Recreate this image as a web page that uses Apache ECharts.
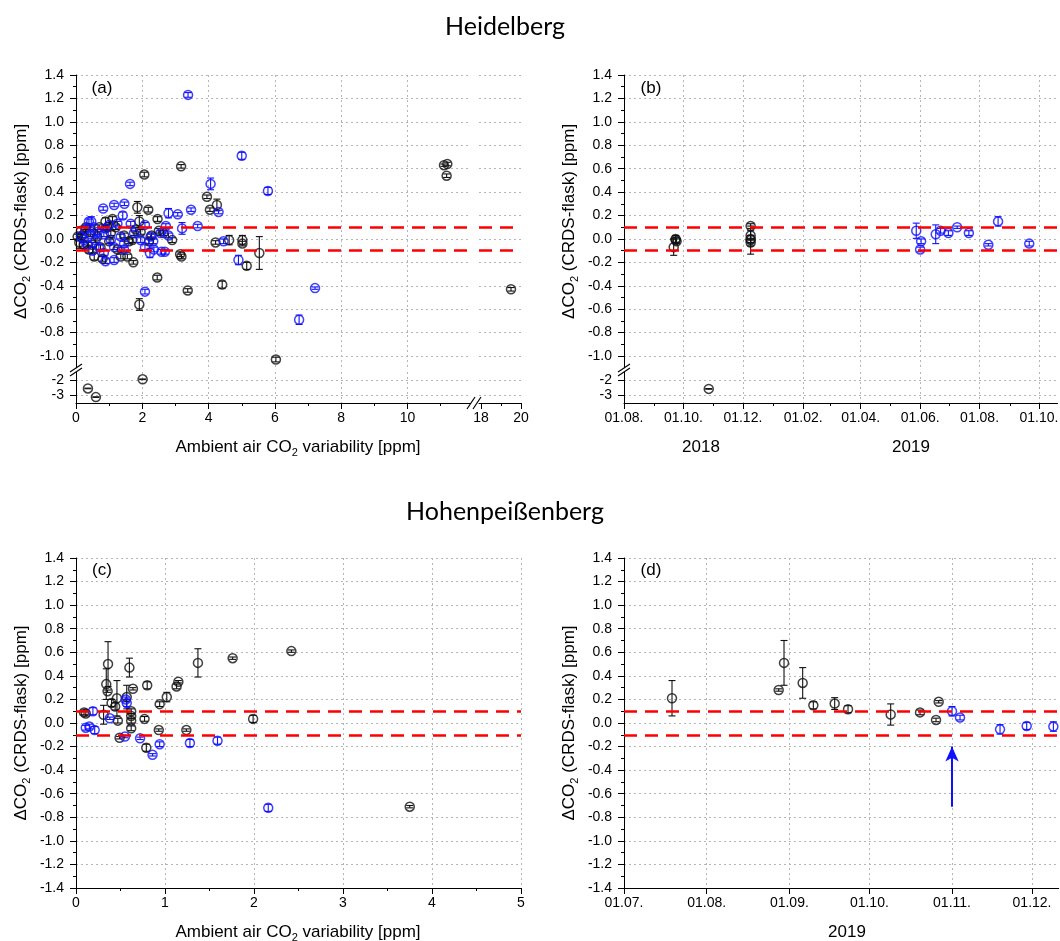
<!DOCTYPE html>
<html>
<head>
<meta charset="utf-8">
<title>CO2 CRDS-flask comparison</title>
<script src="https://cdn.jsdelivr.net/npm/echarts@6/dist/echarts.min.js"></script>
<style>
html, body { margin: 0; padding: 0; background: #fff; }
#chart { width: 1060px; height: 941px; }
</style>
</head>
<body>
<div id="chart"></div>
<script>
var FONT = '"Liberation Sans", Arial, sans-serif';
var BLACK = '#111111';
var BLUE = '#1010ff';

// Heidelberg, vs ambient variability: [variability ppm, dCO2 ppm, error]
var hdVarBlack = [
  [2.06, 0.55, 0.02], [3.17, 0.62, 0.015], [11.1, 0.63, 0.01], [11.2, 0.64, 0.015], [11.18, 0.54, 0.015],
  [3.95, 0.36, 0.015], [4.04, 0.25, 0.015], [4.25, 0.29, 0.05], [2.18, 0.25, 0.02], [1.85, 0.27, 0.05],
  [1.91, 0.15, 0.05], [2.46, 0.17, 0.02], [4.21, -0.03, 0.015], [4.62, -0.01, 0.04], [5.02, -0.01, 0.04],
  [5.02, -0.04, 0.02], [5.53, -0.12, 0.14], [5.15, -0.23, 0.03], [3.14, -0.13, 0.02], [3.18, -0.15, 0.02],
  [1.73, -0.2, 0.015], [6.03, -1.03, 0.02], [4.41, -0.39, 0.03], [2.45, -0.33, 0.02], [3.37, -0.44, 0.015],
  [1.91, -0.56, 0.05], [2.01, -1.97, 0.02], [0.36, -2.56, 0.02], [0.6, -3.12, 0.02], [19.5, -0.43, 0.015],
  [0.05, 0.02, 0.02], [0.1, -0.03, 0.05], [0.15, 0.07, 0.03], [0.19, 0.03, 0.02], [0.24, -0.05, 0.03],
  [0.3, 0.1, 0.02], [0.39, -0.09, 0.03], [0.45, 0.06, 0.02], [0.49, -0.05, 0.02], [0.55, -0.15, 0.03],
  [0.64, 0.02, 0.02], [0.7, 0.1, 0.02], [0.74, -0.07, 0.02], [0.8, -0.17, 0.02], [0.89, 0.15, 0.03],
  [0.95, 0.1, 0.02], [1.0, -0.02, 0.02], [1.05, 0.05, 0.02], [1.1, 0.17, 0.02], [1.2, 0.1, 0.02],
  [1.25, -0.09, 0.02], [1.35, -0.15, 0.02], [1.45, 0.03, 0.02], [1.55, -0.15, 0.02], [1.6, -0.02, 0.02],
  [1.7, -0.01, 0.02], [1.8, 0.08, 0.02], [1.95, 0.06, 0.02], [2.2, -0.02, 0.02], [2.28, 0.03, 0.02],
  [2.64, 0.05, 0.02], [2.5, 0.07, 0.02], [2.9, -0.01, 0.02]
];
var hdVarBlue = [
  [3.38, 1.23, 0.02], [5.0, 0.71, 0.03], [5.79, 0.41, 0.03], [1.63, 0.47, 0.015], [4.06, 0.47, 0.05],
  [4.3, 0.23, 0.015], [3.47, 0.25, 0.015], [3.07, 0.21, 0.015], [2.79, 0.22, 0.04], [3.67, 0.11, 0.015],
  [3.2, 0.09, 0.05], [2.71, 0.11, 0.02], [1.46, 0.3, 0.015], [1.15, 0.29, 0.015], [0.82, 0.26, 0.015],
  [1.41, 0.2, 0.03], [0.46, 0.15, 0.04], [4.45, -0.02, 0.02], [4.9, -0.18, 0.04], [6.73, -0.69, 0.04],
  [7.21, -0.42, 0.01], [2.08, -0.45, 0.02], [2.08, 0.12, 0.02], [2.33, -0.02, 0.02], [2.08, -0.07, 0.02],
  [2.23, -0.12, 0.04], [2.58, -0.11, 0.02], [2.68, -0.11, 0.02], [2.79, 0.03, 0.02],
  [0.39, 0.15, 0.02], [0.54, 0.1, 0.02], [0.29, 0.08, 0.03], [0.44, 0.04, 0.02], [0.24, -0.01, 0.02],
  [0.59, -0.01, 0.02], [0.34, -0.05, 0.02], [0.69, -0.07, 0.02], [0.84, 0.04, 0.02], [0.89, 0.09, 0.02],
  [1.0, 0.12, 0.02], [1.05, -0.01, 0.02], [1.15, -0.07, 0.02], [1.25, 0.13, 0.02], [1.35, 0.02, 0.02],
  [1.45, -0.04, 0.02], [0.84, -0.12, 0.02], [0.89, -0.19, 0.02], [1.15, -0.18, 0.02], [1.45, -0.09, 0.02],
  [1.95, -0.01, 0.02], [2.25, 0.02, 0.02], [2.55, 0.05, 0.02], [2.35, -0.09, 0.02], [0.15, 0.02, 0.03],
  [0.5, -0.1, 0.03], [0.65, 0.06, 0.02], [1.65, 0.13, 0.02], [1.75, 0.05, 0.02]
];

// Heidelberg, time series: [date, dCO2 ppm, error]
var hdTimeBlack = [
  ['2018-09-21', -0.07, 0.07], ['2018-09-23', 0.0, 0.03], ['2018-09-23', -0.01, 0.02], ['2018-09-24', -0.02, 0.02],
  ['2018-10-27', -2.59, 0.02],
  ['2018-12-09', 0.11, 0.02], ['2018-12-09', 0.03, 0.04], ['2018-12-09', 0.0, 0.03],
  ['2018-12-09', -0.01, 0.12], ['2018-12-09', -0.03, 0.03]
];
var hdTimeBlue = [
  ['2019-05-28', 0.07, 0.065], ['2019-06-02', -0.02, 0.02], ['2019-06-01', -0.09, 0.02], ['2019-06-17', 0.04, 0.08],
  ['2019-06-22', 0.07, 0.02], ['2019-06-30', 0.05, 0.02], ['2019-07-09', 0.1, 0.01], ['2019-07-21', 0.05, 0.02],
  ['2019-08-10', -0.05, 0.01], ['2019-08-20', 0.15, 0.04], ['2019-09-21', -0.04, 0.02]
];

// Hohenpeissenberg, vs ambient variability
var hpVarBlack = [
  [0.36, 0.5, 0.19], [0.34, 0.33, 0.13], [0.355, 0.27, 0.01], [0.6, 0.47, 0.08], [0.64, 0.29, 0.01],
  [0.8, 0.32, 0.03], [0.46, 0.21, 0.15], [0.4, 0.17, 0.03], [0.44, 0.14, 0.03], [0.57, 0.22, 0.1],
  [0.47, 0.02, 0.02], [0.31, 0.07, 0.08], [0.11, 0.08, 0.02], [0.09, 0.09, 0.02], [0.62, 0.1, 0.02],
  [0.62, 0.06, 0.02], [0.62, 0.02, 0.02], [0.62, -0.045, 0.02], [0.77, 0.035, 0.02], [0.49, -0.125, 0.01],
  [0.79, -0.21, 0.03], [0.93, -0.06, 0.01], [0.94, 0.16, 0.02], [1.02, 0.22, 0.04], [1.13, 0.31, 0.02],
  [1.15, 0.35, 0.01], [1.24, -0.06, 0.01], [1.37, 0.51, 0.12], [1.76, 0.55, 0.01], [1.99, 0.035, 0.03],
  [2.42, 0.61, 0.01], [3.75, -0.71, 0.01]
];
var hpVarBlue = [
  [0.57, 0.17, 0.03], [0.56, 0.2, 0.02], [0.19, 0.1, 0.03], [0.38, 0.04, 0.01], [0.11, -0.04, 0.02],
  [0.15, -0.03, 0.02], [0.21, -0.06, 0.03], [0.55, -0.115, 0.01], [0.72, -0.13, 0.01], [0.86, -0.27, 0.01],
  [0.94, -0.18, 0.02], [1.28, -0.17, 0.03], [1.59, -0.15, 0.03], [2.16, -0.72, 0.03]
];

// Hohenpeissenberg, time series
var hpTimeBlack = [
  ['2019-07-19', 0.21, 0.15], ['2019-08-28', 0.28, 0.01], ['2019-08-30', 0.51, 0.19], ['2019-09-06', 0.34, 0.13],
  ['2019-09-10', 0.15, 0.03], ['2019-09-18', 0.165, 0.05], ['2019-09-23', 0.117, 0.03], ['2019-10-09', 0.072, 0.09],
  ['2019-10-20', 0.09, 0.02], ['2019-10-26', 0.026, 0.015], ['2019-10-27', 0.18, 0.01]
];
var hpTimeBlue = [
  ['2019-11-01', 0.1, 0.04], ['2019-11-04', 0.046, 0.02], ['2019-11-19', -0.054, 0.04],
  ['2019-11-29', -0.025, 0.03], ['2019-12-09', -0.03, 0.04]
];
var arrowDate = '2019-11-01', arrowFrom = -0.71, arrowTo = -0.2;

// ticks
var yMajor = [-1.0, -0.8, -0.6, -0.4, -0.2, 0, 0.2, 0.4, 0.6, 0.8, 1.0, 1.2, 1.4];
var yMinor = [-0.9, -0.7, -0.5, -0.3, -0.1, 0.1, 0.3, 0.5, 0.7, 0.9, 1.1, 1.3];
var yBreak = [-3, -2];
var xVarTicks = [0, 2, 4, 6, 8, 10], xVarMinor = [1, 3, 5, 7, 9, 11];
var xFarTicks = [18, 20], xFarMinor = [19];
var hdDateTicks = ['2018-08-01', '2018-10-01', '2018-12-01', '2019-02-01', '2019-04-01', '2019-06-01', '2019-08-01', '2019-10-01'];
var hdDateMinor = ['2018-09-01', '2018-11-01', '2019-01-01', '2019-03-01', '2019-05-01', '2019-07-01', '2019-09-01'];
var hpDateTicks = ['2019-07-01', '2019-08-01', '2019-09-01', '2019-10-01', '2019-11-01', '2019-12-01'];

function day(s) {
  var p = s.split('-').map(Number);
  return new Date(p[0], p[1] - 1, p[2]).getTime();
}
function toTime(arr) { return arr.map(function (p) { return [day(p[0]), p[1], p[2]]; }); }
function pick(d, x0, x1, y0, y1) {
  return d.filter(function (p) { return p[0] >= x0 && p[0] <= x1 && p[1] >= y0 && p[1] <= y1; });
}
function pad(n) { return (n < 10 ? '0' : '') + n; }
function fmtDate(v) { var d = new Date(v); return pad(d.getDate()) + '.' + pad(d.getMonth() + 1) + '.'; }
function fmt1(v) { return (+v).toFixed(1); }
function fmt0(v) { return String(Math.round(v)); }

var axLine = { show: true, onZero: false, lineStyle: { color: '#000', width: 1 } };
var grid_split = { show: true, lineStyle: { color: '#b5b5b5', type: [2, 3], width: 1 } };
function major(vals) { return { show: true, length: 6, customValues: vals, lineStyle: { color: '#000' } }; }
function minor(vals) { return { show: true, length: 3, customValues: vals, lineStyle: { color: '#000' } }; }
function labs(vals, f, margin) {
  return { show: true, customValues: vals, formatter: f, color: '#000', fontFamily: FONT, fontSize: 14, margin: margin };
}
function axis(gi, pos, extra) {
  return Object.assign({
    gridIndex: gi, position: pos, axisLine: { show: false, onZero: false }, axisTick: { show: false },
    axisLabel: { show: false }, splitLine: { show: false }
  }, extra);
}
var yName = '{n|\u0394CO}{s|2}{n| (CRDS-flask) [ppm]}';
var yNameStyle = {
  color: '#000', fontFamily: FONT, fontSize: 17,
  rich: {
    n: { fontFamily: FONT, fontSize: 17, color: '#000', lineHeight: 22 },
    s: { fontFamily: FONT, fontSize: 11, color: '#000', lineHeight: 11, verticalAlign: 'bottom' }
  }
};

function errBar(params, api) {
  var x = api.value(0), y = api.value(1), e = api.value(2);
  var a = api.coord([x, y + e]), b = api.coord([x, y - e]);
  var w = 3.5;
  var st = { stroke: api.visual('color'), lineWidth: 1.1 };
  return {
    type: 'group', children: [
      { type: 'line', shape: { x1: a[0], y1: a[1], x2: b[0], y2: b[1] }, style: st },
      { type: 'line', shape: { x1: a[0] - w, y1: a[1], x2: a[0] + w, y2: a[1] }, style: st },
      { type: 'line', shape: { x1: b[0] - w, y1: b[1], x2: b[0] + w, y2: b[1] }, style: st }
    ]
  };
}
var limitMark = {
  symbol: 'none', silent: true, label: { show: false },
  lineStyle: { color: '#ff0000', type: [13, 8], width: 2.6 },
  data: [{ yAxis: 0.1 }, { yAxis: -0.1 }]
};
function points(data, color, xi, yi, mark) {
  var sc = {
    type: 'scatter', xAxisIndex: xi, yAxisIndex: yi, data: data, symbol: 'circle', symbolSize: 9,
    itemStyle: { color: 'rgba(0,0,0,0)', borderColor: color, borderWidth: 1.5 },
    emphasis: { disabled: true }, silent: true, z: 4
  };
  if (mark) sc.markLine = mark;
  return [
    { type: 'custom', xAxisIndex: xi, yAxisIndex: yi, data: data, renderItem: errBar, itemStyle: { color: color }, silent: true, z: 3 },
    sc
  ];
}

var hdTB = toTime(hdTimeBlack), hdTU = toTime(hdTimeBlue);
var hpTB = toTime(hpTimeBlack), hpTU = toTime(hpTimeBlue);
var hdMin = day('2018-08-01'), hdMax = day('2019-10-20');
var hpMin = day('2019-07-01'), hpMax = day('2019-12-11');

var series = [].concat(
  points(pick(hdVarBlack, 0, 11.9, -1.1, 1.4), BLACK, 0, 0, limitMark),
  points(pick(hdVarBlue, 0, 11.9, -1.1, 1.4), BLUE, 0, 0),
  points(pick(hdVarBlack, 0, 11.9, -3.5, -1.5), BLACK, 1, 1),
  points(pick(hdVarBlack, 17.9, 20, -1.1, 1.4), BLACK, 2, 2, limitMark),
  points(pick(hdTB, hdMin, hdMax, -1.1, 1.4), BLACK, 4, 4, limitMark),
  points(pick(hdTU, hdMin, hdMax, -1.1, 1.4), BLUE, 4, 4),
  points(pick(hdTB, hdMin, hdMax, -3.5, -1.5), BLACK, 5, 5),
  points(hpVarBlack, BLACK, 6, 6, limitMark),
  points(hpVarBlue, BLUE, 6, 6),
  points(hpTB, BLACK, 7, 7, limitMark),
  points(hpTU, BLUE, 7, 7, {
    symbol: ['none', 'arrow'], symbolSize: [10, 15], silent: true, label: { show: false },
    lineStyle: { color: BLUE, type: 'solid', width: 2 },
    data: [[{ coord: [day(arrowDate), arrowFrom] }, { coord: [day(arrowDate), arrowTo] }]]
  })
);

var txt = function (x, y, text, size, extra) {
  return {
    type: 'text', x: x, y: y, silent: true,
    style: Object.assign({ text: text, fill: '#000', font: size + 'px ' + FONT, align: 'center', verticalAlign: 'middle' }, extra || {})
  };
};
var brk = function (x1, y1, x2, y2) {
  return { type: 'line', silent: true, shape: { x1: x1, y1: y1, x2: x2, y2: y2 }, style: { stroke: '#000', lineWidth: 1.2 } };
};
var xTitleRich = {
  text: '{n|Ambient air CO}{s|2}{n| variability [ppm]}',
  rich: {
    n: { fontFamily: FONT, fontSize: 17, fill: '#000', lineHeight: 22 },
    s: { fontFamily: FONT, fontSize: 11, fill: '#000', lineHeight: 11, verticalAlign: 'bottom' }
  }
};

var option = {
  backgroundColor: '#fff',
  animation: false,
  grid: [
    { left: 76, top: 75, width: 394.5, height: 292.75, outerBoundsMode: 'none' },
    { left: 76, top: 372, width: 394.5, height: 31, outerBoundsMode: 'none' },
    { left: 479, top: 75, width: 42, height: 292.75, outerBoundsMode: 'none' },
    { left: 479, top: 372, width: 42, height: 31, outerBoundsMode: 'none' },
    { left: 624, top: 75, width: 433.5, height: 292.75, outerBoundsMode: 'none' },
    { left: 624, top: 372, width: 433.5, height: 31, outerBoundsMode: 'none' },
    { left: 76, top: 558, width: 445, height: 330, outerBoundsMode: 'none' },
    { left: 624, top: 558, width: 434.7, height: 330, outerBoundsMode: 'none' }
  ],
  xAxis: [
    axis(0, 'bottom', { type: 'value', min: 0, max: 11.9, axisTick: { show: false, customValues: xVarTicks }, splitLine: grid_split }),
    axis(1, 'bottom', { type: 'value', min: 0, max: 11.9, axisLine: axLine, axisTick: major(xVarTicks), axisLabel: labs(xVarTicks, fmt0, 8), splitLine: grid_split }),
    axis(2, 'bottom', { type: 'value', min: 17.9, max: 20 }),
    axis(3, 'bottom', { type: 'value', min: 17.9, max: 20, axisLine: axLine, axisTick: major(xFarTicks), axisLabel: labs(xFarTicks, fmt0, 8) }),
    axis(4, 'bottom', { type: 'value', min: hdMin, max: hdMax, axisTick: { show: false, customValues: hdDateTicks.map(day) }, splitLine: grid_split }),
    axis(5, 'bottom', { type: 'value', min: hdMin, max: hdMax, axisLine: axLine, axisTick: major(hdDateTicks.map(day)), axisLabel: labs(hdDateTicks.map(day), fmtDate, 8), splitLine: grid_split }),
    axis(6, 'bottom', {
      type: 'value', min: 0, max: 5, interval: 1, axisLine: axLine,
      axisTick: { show: true, length: 6, lineStyle: { color: '#000' } },
      minorTick: { show: true, splitNumber: 2, length: 3, lineStyle: { color: '#000' } },
      axisLabel: { show: true, formatter: fmt0, color: '#000', fontFamily: FONT, fontSize: 14, margin: 8 },
      splitLine: grid_split
    }),
    axis(7, 'bottom', { type: 'value', min: hpMin, max: hpMax, axisLine: axLine, axisTick: major(hpDateTicks.map(day)), axisLabel: labs(hpDateTicks.map(day), fmtDate, 8), splitLine: grid_split }),
    axis(1, 'bottom', { type: 'value', min: 0, max: 11.9, axisTick: minor(xVarMinor) }),
    axis(3, 'bottom', { type: 'value', min: 17.9, max: 20, axisTick: minor(xFarMinor) }),
    axis(5, 'bottom', { type: 'value', min: hdMin, max: hdMax, axisTick: minor(hdDateMinor.map(day)) })
  ],
  yAxis: [
    axis(0, 'left', {
      type: 'value', min: -1.1, max: 1.4, interval: 0.1, axisLine: axLine, axisTick: major(yMajor),
      axisLabel: labs(yMajor, fmt1, 12), splitLine: grid_split,
      name: yName, nameLocation: 'middle', nameGap: 44, nameTextStyle: yNameStyle
    }),
    axis(1, 'left', { type: 'value', min: -3.5, max: -1.5, interval: 0.5, axisLine: axLine, axisTick: major(yBreak), axisLabel: labs(yBreak, fmt0, 12), splitLine: grid_split }),
    axis(2, 'left', { type: 'value', min: -1.1, max: 1.4, interval: 0.1, axisTick: { show: false, customValues: yMajor }, splitLine: grid_split }),
    axis(3, 'left', { type: 'value', min: -3.5, max: -1.5, interval: 0.5, axisTick: { show: false, customValues: yBreak }, splitLine: grid_split }),
    axis(4, 'left', {
      type: 'value', min: -1.1, max: 1.4, interval: 0.1, axisLine: axLine, axisTick: major(yMajor),
      axisLabel: labs(yMajor, fmt1, 12), splitLine: grid_split,
      name: yName, nameLocation: 'middle', nameGap: 44, nameTextStyle: yNameStyle
    }),
    axis(5, 'left', { type: 'value', min: -3.5, max: -1.5, interval: 0.5, axisLine: axLine, axisTick: major(yBreak), axisLabel: labs(yBreak, fmt0, 12), splitLine: grid_split }),
    axis(6, 'left', {
      type: 'value', min: -1.4, max: 1.4, interval: 0.2, axisLine: axLine,
      axisTick: { show: true, length: 6, lineStyle: { color: '#000' } },
      minorTick: { show: true, splitNumber: 2, length: 3, lineStyle: { color: '#000' } },
      axisLabel: { show: true, formatter: fmt1, color: '#000', fontFamily: FONT, fontSize: 14, margin: 12 },
      splitLine: grid_split,
      name: yName, nameLocation: 'middle', nameGap: 44, nameTextStyle: yNameStyle
    }),
    axis(7, 'left', {
      type: 'value', min: -1.4, max: 1.4, interval: 0.2, axisLine: axLine,
      axisTick: { show: true, length: 6, lineStyle: { color: '#000' } },
      minorTick: { show: true, splitNumber: 2, length: 3, lineStyle: { color: '#000' } },
      axisLabel: { show: true, formatter: fmt1, color: '#000', fontFamily: FONT, fontSize: 14, margin: 12 },
      splitLine: grid_split,
      name: yName, nameLocation: 'middle', nameGap: 44, nameTextStyle: yNameStyle
    }),
    axis(0, 'left', { type: 'value', min: -1.1, max: 1.4, interval: 0.1, axisTick: minor(yMinor) }),
    axis(4, 'left', { type: 'value', min: -1.1, max: 1.4, interval: 0.1, axisTick: minor(yMinor) })
  ],
  graphic: [
    txt(505, 27, 'Heidelberg', 25, { font: '25px Lato, "Open Sans", sans-serif' }),
    txt(505, 512, 'Hohenpei\u00dfenberg', 25, { font: '25px Lato, "Open Sans", sans-serif' }),
    txt(102, 88, '(a)', 17),
    txt(651, 88, '(b)', 17),
    txt(102, 570, '(c)', 17),
    txt(651, 570, '(d)', 17),
    { type: 'text', x: 298, y: 447, silent: true, style: Object.assign({ align: 'center', verticalAlign: 'middle' }, xTitleRich) },
    { type: 'text', x: 298, y: 932, silent: true, style: Object.assign({ align: 'center', verticalAlign: 'middle' }, xTitleRich) },
    txt(701, 447, '2018', 17),
    txt(911, 447, '2019', 17),
    txt(847, 932, '2019', 17),
    brk(70, 372, 82, 364), brk(70, 376, 82, 368),
    brk(618, 372, 630, 364), brk(618, 376, 630, 368),
    brk(467, 409, 475, 397), brk(473, 409, 481, 397)
  ],
  series: series
};

var chart = echarts.init(document.getElementById('chart'), null, { renderer: 'canvas' });
chart.setOption(option);
</script>
</body>
</html>
